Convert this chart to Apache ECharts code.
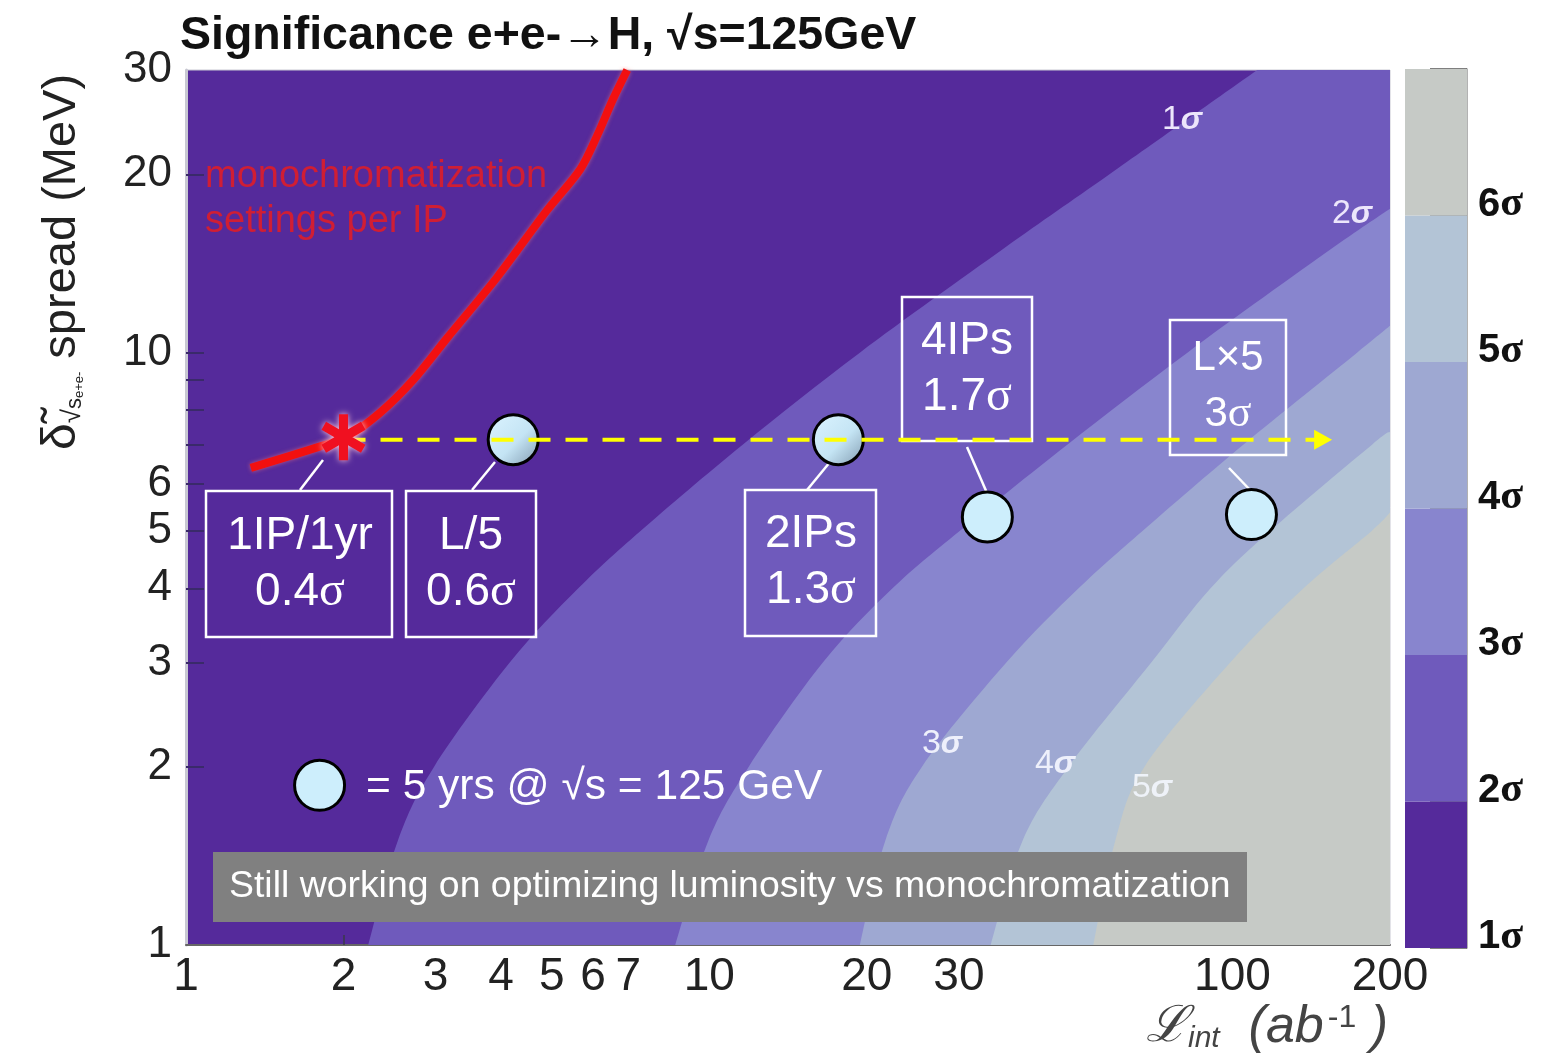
<!DOCTYPE html>
<html><head><meta charset="utf-8">
<script src="https://cdn.jsdelivr.net/npm/echarts@6/dist/echarts.min.js"></script>
<style>html,body{margin:0;padding:0;background:#fff}#c{width:1554px;height:1058px}</style>
</head><body><div id="c"></div>
<script>
// ---- axis ticks / labels ----
const xTickLabels = [1, 2, 3, 4, 5, 6, 7, 10, 20, 30, 100, 200];
const yTickLabels = [1, 2, 3, 4, 5, 6, 10, 20, 30];
const xTickMarks = [2, 3, 4, 5, 6, 7, 8, 9, 10, 20, 30, 40, 50, 60, 70, 80, 90, 100];
const yTickMarks = [2, 3, 4, 5, 6, 7, 8, 9, 10, 20];
const sigmaLabels = ['1σ', '2σ', '3σ', '4σ', '5σ', '6σ'];

// ---- significance contour boundaries (luminosity ab^-1 vs energy spread MeV) ----
const c1Delta = [1, 1.5, 2, 3, 4, 5, 7, 10, 15, 20, 30];
const c1Lumi  = [2.23, 2.54, 2.98, 4.16, 5.62, 7.39, 11.6, 19.4, 36.6, 58.2, 111.5];
const c2Delta = [1, 1.5, 2, 3, 4, 5, 7, 10, 15, 17.5];
const c2Lumi  = [8.61, 9.96, 11.9, 16.5, 22.4, 30.1, 48.4, 82.0, 155, 200];
const c3Delta = [1, 1.5, 2, 3, 4, 5, 7, 10, 11.1];
const c3Lumi  = [19.4, 21.7, 25.5, 37.0, 50.8, 67.3, 105, 173, 200];
const c4Delta = [1, 1.5, 2, 3, 4, 5, 7, 7.35];
const c4Lumi  = [34.5, 39.7, 48.6, 70.0, 90.8, 118, 185, 200];
const c5Delta = [1, 1.5, 2, 3, 4, 5, 5.37];
const c5Lumi  = [54.2, 59.7, 67.9, 99.1, 136.7, 184.5, 200];

// ---- monochromatization settings per IP (red curve) ----
const monoLumi  = [1.33, 1.80, 2.03, 2.35, 2.72, 3.16, 3.93, 4.90, 5.67, 6.10, 6.55, 6.97];
const monoDelta = [6.39, 6.94, 7.21, 7.92, 9.0, 10.6, 13.4, 17.4, 20.4, 23.2, 26.8, 30];

// ---- scenario points (5 yrs @ 125 GeV) ----
const pointLumi  = [4.22, 17.65, 34.0, 108.7];
const pointDelta = [7.13, 7.13, 5.28, 5.33];
const legendPoint = [1.80, 1.86];
const starPoint = [2.0, 7.2];
const scanDelta = 7.13;
const scanLumi = [2.0, 146];
const arrowLumi = 149;

const bandColors = ['#552a9b', '#6f5abc', '#8885ce', '#9ea8d2', '#b3c4d6', '#c6cac6'];

const boundaries = [
  [c1Lumi, c1Delta], [c2Lumi, c2Delta], [c3Lumi, c3Delta], [c4Lumi, c4Delta], [c5Lumi, c5Delta]
].map(([L, D]) => L.map((l, i) => [l, D[i]]));

function smoothPath(pts) {
  // Catmull-Rom spline through the read boundary points, drawn as cubic beziers
  let d = 'M' + pts[0][0] + ',' + pts[0][1];
  for (let i = 0; i < pts.length - 1; i++) {
    const p0 = pts[Math.max(i - 1, 0)], p1 = pts[i], p2 = pts[i + 1], p3 = pts[Math.min(i + 2, pts.length - 1)];
    const c1 = [p1[0] + (p2[0] - p0[0]) / 6, p1[1] + (p2[1] - p0[1]) / 6];
    const c2 = [p2[0] - (p3[0] - p1[0]) / 6, p2[1] - (p3[1] - p1[1]) / 6];
    d += 'C' + c1[0] + ',' + c1[1] + ' ' + c2[0] + ',' + c2[1] + ' ' + p2[0] + ',' + p2[1];
  }
  return d;
}

const chart = echarts.init(document.getElementById('c'), null, {renderer: 'canvas'});
const SANS = '"Liberation Sans", Arial, sans-serif';
const SERIF = '"Liberation Serif", "DejaVu Serif", serif';
const shade = new echarts.graphic.LinearGradient(0, 0, 1, 1, [
  {offset: 0, color: '#dcf4ff'}, {offset: 0.55, color: '#c4e4f4'}, {offset: 1, color: '#7f98ad'}]);

const starPath = 'path://M-1,-5L1,-5L1,5L-1,5Z M3.83,-3.366L4.83,-1.634L-3.83,3.366L-4.83,1.634Z M-4.83,-1.634L-3.83,-3.366L4.83,1.634L3.83,3.366Z';

function box(x1, y1, x2, y2) {
  return {type: 'rect', z: 3, shape: {x: x1, y: y1, width: x2 - x1, height: y2 - y1},
    style: {fill: 'none', stroke: '#fff', lineWidth: 2.5}};
}
function boxText(cx, cy, l1, l2, fs) {
  return {type: 'text', z: 10, x: cx, y: cy, style: {
    text: '{a|' + l1 + '}\n{a|' + l2[0] + '}{s|' + l2[1] + '}',
    align: 'center', verticalAlign: 'middle', fill: '#fff',
    rich: {a: {fontFamily: SANS, fontSize: fs, lineHeight: 56, fill: '#fff'},
           s: {fontFamily: SERIF, fontSize: fs + 2, lineHeight: 56, fill: '#fff'}}}};
}
function connector(x1, y1, x2, y2) {
  return {type: 'line', z: 3, shape: {x1, y1, x2, y2}, style: {stroke: '#fff', lineWidth: 2.5}};
}
function contourLabel(x, y, n, col) {
  return {type: 'text', z: 10, x, y, style: {
    text: '{n|' + n + '}{s|σ}', align: 'center', verticalAlign: 'middle',
    rich: {n: {fontFamily: SANS, fontSize: 34, fill: col},
           s: {fontFamily: SANS, fontSize: 32, fontStyle: 'italic', fontWeight: 'bold', fill: col}}}};
}

const graphics = [
  {type: 'text', z: 10, x: 180, y: 36, style: {text: 'Significance e+e-→H, √s=125GeV',
    fontFamily: SANS, fontWeight: 'bold', fontSize: 46.5, fill: '#111', verticalAlign: 'middle'}},
  {type: 'text', z: 10, x: 62, y: 262, rotation: Math.PI / 2, style: {
    text: '{d|δ̃}{r|√}{s|s}{e|e+e-}{m| spread (MeV)}', align: 'center', verticalAlign: 'middle',
    rich: {d: {fontFamily: SANS, fontSize: 48, fill: '#222', verticalAlign: 'middle'},
           r: {fontFamily: SANS, fontSize: 26, fill: '#222', verticalAlign: 'bottom'},
           s: {fontFamily: SANS, fontSize: 22, fill: '#222', verticalAlign: 'bottom'},
           e: {fontFamily: SANS, fontSize: 13, fill: '#222', verticalAlign: 'bottom'},
           m: {fontFamily: SANS, fontSize: 47, fill: '#222', verticalAlign: 'middle'}}}},
  {type: 'text', z: 10, x: 1146, y: 1028, style: {
    text: '{L|ℒ}{i|int}{m|  (ab}{p|-1}{q| )}', verticalAlign: 'middle',
    rich: {L: {fontFamily: SERIF, fontSize: 50, fontStyle: 'italic', fill: '#444'},
           i: {fontFamily: SANS, fontSize: 30, fontStyle: 'italic', fill: '#444', verticalAlign: 'bottom', padding: [22, 0, 0, 0]},
           m: {fontFamily: SANS, fontSize: 52, fontStyle: 'italic', fill: '#444'},
           p: {fontFamily: SANS, fontSize: 32, fill: '#444', verticalAlign: 'top', padding: [0, 0, 20, 4]},
           q: {fontFamily: SANS, fontSize: 52, fontStyle: 'italic', fill: '#444'}}}},
  {type: 'text', z: 10, x: 205, y: 177, style: {text: 'monochromatization', fontFamily: SANS, fontSize: 38,
    fill: '#d01e34', verticalAlign: 'middle'}},
  {type: 'text', z: 10, x: 205, y: 222, style: {text: 'settings per IP', fontFamily: SANS, fontSize: 38,
    fill: '#d01e34', verticalAlign: 'middle'}},
  contourLabel(1182, 120, '1', '#ece6fb'),
  contourLabel(1352, 214, '2', '#ece6fb'),
  contourLabel(942, 744, '3', '#eef0fb'),
  contourLabel(1055, 764, '4', '#eef0fb'),
  contourLabel(1152, 788, '5', '#eef2f8'),
  box(206, 491, 392, 637), boxText(300, 564, '1IP/1yr', ['0.4', 'σ'], 46),
  box(406, 491, 536, 637), boxText(471, 564, 'L/5', ['0.6', 'σ'], 46),
  box(745, 490, 876, 636), boxText(811, 562, '2IPs', ['1.3', 'σ'], 46),
  box(902, 297, 1032, 441), boxText(967, 369, '4IPs', ['1.7', 'σ'], 46),
  box(1170, 320, 1286, 455), boxText(1228, 386, 'L×5', ['3', 'σ'], 42),
  connector(300, 490, 323, 460),
  connector(472, 490, 495, 462),
  connector(807, 490, 830, 462),
  connector(967, 447, 987, 493),
  connector(1229, 468, 1252, 492),
  {type: 'text', z: 10, x: 366, y: 787, style: {text: '= 5 yrs @ √s = 125 GeV', fontFamily: SANS,
    fontSize: 42.5, fill: '#fff', verticalAlign: 'middle'}},
  {type: 'rect', z: 9, shape: {x: 213, y: 852, width: 1034, height: 70}, style: {fill: '#808080'}},
  {type: 'text', z: 10, x: 229, y: 887, style: {text: 'Still working on optimizing luminosity vs monochromatization',
    fontFamily: SANS, fontSize: 37.4, fill: '#fff', verticalAlign: 'middle'}}
];

const option = {
  animation: false,
  backgroundColor: '#fff',
  grid: [
    {left: 186, right: 164, top: 70, bottom: 113, show: true, backgroundColor: bandColors[0],
     borderWidth: 1, borderColor: '#c8c8d2', outerBoundsMode: 'none'},
    {left: 1405, width: 62, top: 69, bottom: 110, outerBoundsMode: 'none'}
  ],
  xAxis: [
    {type: 'log', logBase: 10, min: 1, max: 200, gridIndex: 0,
     axisLine: {show: true, onZero: false, lineStyle: {color: '#666', width: 2}},
     axisTick: {show: true, inside: true, length: 10, customValues: xTickMarks, lineStyle: {color: '#3a3a4a', width: 1.5}},
     minorTick: {show: false}, splitLine: {show: false},
     axisLabel: {customValues: xTickLabels, fontFamily: SANS, fontSize: 46, color: '#222', margin: 9,
       formatter: v => String(Math.round(v))}},
    {type: 'category', gridIndex: 1, data: ['c'], show: false}
  ],
  yAxis: [
    {type: 'log', logBase: 10, min: 1, max: 30, gridIndex: 0,
     axisLine: {show: true, onZero: false, lineStyle: {color: '#c8c8d2', width: 3}},
     axisTick: {show: true, inside: true, length: 18, customValues: yTickMarks, lineStyle: {color: '#3a2a6a', width: 2}},
     splitLine: {show: false},
     axisLabel: {customValues: yTickLabels, fontFamily: SANS, fontSize: 44, color: '#222', margin: 14,
       formatter: v => String(Math.round(v))}},
    {type: 'value', gridIndex: 1, min: 0, max: 6, interval: 1, position: 'right',
     axisLine: {show: true, lineStyle: {color: '#999', width: 1.5}},
     axisTick: {show: true, inside: true, length: 37, lineStyle: {color: '#555', width: 1.5}},
     splitLine: {show: false},
     axisLabel: {margin: 11, padding: [0, 0, 22, 0],
       formatter: v => (v < 6 ? '{n|' + sigmaLabels[v][0] + '}{s|σ}' : ''),
       rich: {n: {fontFamily: SANS, fontWeight: 'bold', fontSize: 40, color: '#111'},
              s: {fontFamily: SERIF, fontWeight: 'bold', fontSize: 42, color: '#111'}}}}
  ],
  series: [
    {type: 'custom', xAxisIndex: 0, yAxisIndex: 0, z: 1, silent: true,
     data: boundaries.map(() => [1, 1]),
     renderItem: (params, api) => {
       const b = boundaries[params.dataIndex];
       const pts = b.map(p => api.coord(p));
       let d = smoothPath(pts);
       if (b[b.length - 1][1] >= 30) {
         const tr = api.coord([200, 30]);
         d += 'L' + tr[0] + ',' + tr[1];
       }
       const br = api.coord([200, 1]);
       d += 'L' + br[0] + ',' + br[1] + 'Z';
       return {type: 'path', shape: {pathData: d}, style: {fill: bandColors[params.dataIndex + 1]}};
     }},
    {type: 'line', xAxisIndex: 0, yAxisIndex: 0, z: 5, smooth: 0.3, showSymbol: false, symbol: 'none',
     data: monoLumi.map((l, i) => [l, monoDelta[i]]),
     lineStyle: {color: '#f21010', width: 8, shadowColor: 'rgba(255,120,120,0.6)', shadowBlur: 4}},
    {type: 'scatter', xAxisIndex: 0, yAxisIndex: 0, z: 6,
     data: [
       {value: [pointLumi[0], pointDelta[0]], itemStyle: {color: shade}},
       {value: [pointLumi[1], pointDelta[1]], itemStyle: {color: shade}},
       {value: [pointLumi[2], pointDelta[2]]},
       {value: [pointLumi[3], pointDelta[3]]},
       {value: legendPoint}
     ],
     symbol: 'circle', symbolSize: 50,
     itemStyle: {color: '#cdeefc', borderColor: '#000', borderWidth: 3, opacity: 1}},
    {type: 'line', xAxisIndex: 0, yAxisIndex: 0, z: 8, showSymbol: false, symbol: 'none',
     data: scanLumi.map(l => [l, scanDelta]),
     lineStyle: {color: '#ffff00', width: 4, type: [22, 15]}},
    {type: 'scatter', xAxisIndex: 0, yAxisIndex: 0, z: 8, data: [[arrowLumi, scanDelta]],
     symbol: 'triangle', symbolRotate: -90, symbolSize: [20, 18], itemStyle: {color: '#ffff00', opacity: 1}},
    {type: 'scatter', xAxisIndex: 0, yAxisIndex: 0, z: 9, data: [starPoint],
     symbol: starPath, symbolSize: [44, 46],
     itemStyle: {color: '#f01020', opacity: 1, shadowColor: 'rgba(255,200,215,1)', shadowBlur: 6}},
    ...bandColors.map((c, i) => ({
      type: 'bar', xAxisIndex: 1, yAxisIndex: 1, stack: 'cb', barWidth: '100%', silent: true,
      data: [1], itemStyle: {color: c}
    }))
  ],
  graphic: graphics
};
chart.setOption(option);
</script></body></html>
